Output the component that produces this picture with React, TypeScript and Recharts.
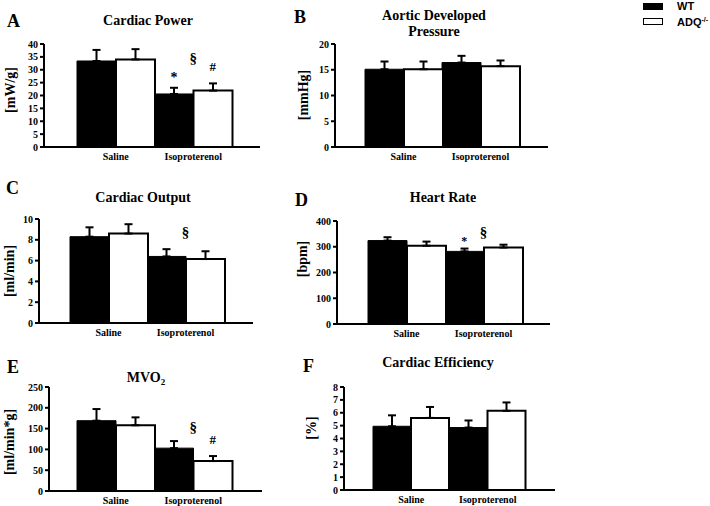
import React from 'react';
import { BarChart, Bar, XAxis, YAxis, ErrorBar, ReferenceDot } from 'recharts';

const SERIF = "'Liberation Serif', 'Times New Roman', Times, serif";
const SANS = "'Liberation Sans', Arial, Helvetica, sans-serif";

const categories = ['Saline', 'Isoproterenol'];
const seriesNames = ['WT', 'ADQ'];

// A: Cardiac Power [mW/g]
const powerWT = [33.4, 20.6];
const powerWTErr = [4.3, 2.4];
const powerADQ = [34.0, 21.9];
const powerADQErr = [4.0, 2.8];
const powerTicks = [0, 5, 10, 15, 20, 25, 30, 35, 40];

// B: Aortic Developed Pressure [mmHg]
const pressureWT = [15.1, 16.4];
const pressureWTErr = [1.5, 1.3];
const pressureADQ = [15.1, 15.7];
const pressureADQErr = [1.5, 1.1];
const pressureTicks = [0, 5, 10, 15, 20];

// C: Cardiac Output [ml/min]
const outputWT = [8.3, 6.4];
const outputWTErr = [0.9, 0.7];
const outputADQ = [8.6, 6.15];
const outputADQErr = [0.9, 0.75];
const outputTicks = [0, 2, 4, 6, 8, 10];

// D: Heart Rate [bpm]
const hrWT = [324, 282];
const hrWTErr = [13, 11];
const hrADQ = [304, 297];
const hrADQErr = [16, 11];
const hrTicks = [0, 100, 200, 300, 400];

// E: MVO2 [ml/min*g]
const mvoWT = [169, 103];
const mvoWTErr = [28, 17];
const mvoADQ = [158, 72];
const mvoADQErr = [19, 12];
const mvoTicks = [0, 50, 100, 150, 200, 250];

// F: Cardiac Efficiency [%]
const effWT = [4.95, 4.85];
const effWTErr = [0.85, 0.55];
const effADQ = [5.6, 6.15];
const effADQErr = [0.85, 0.65];
const effTicks = [0, 1, 2, 3, 4, 5, 6, 7, 8];

type Mark = { cat: string; side: 'wt' | 'adq' | 'mid'; text: string; value: number; size: number };

const powerMarks: Mark[] = [
  { cat: 'Isoproterenol', side: 'wt', text: '*', value: 28.7, size: 14 },
  { cat: 'Isoproterenol', side: 'mid', text: '§', value: 34.6, size: 15 },
  { cat: 'Isoproterenol', side: 'adq', text: '#', value: 31.1, size: 13 },
];
const outputMarks: Mark[] = [
  { cat: 'Isoproterenol', side: 'mid', text: '§', value: 8.75, size: 15 },
];
const hrMarks: Mark[] = [
  { cat: 'Isoproterenol', side: 'wt', text: '*', value: 338, size: 12 },
  { cat: 'Isoproterenol', side: 'mid', text: '§', value: 357, size: 15 },
];
const mvoMarks: Mark[] = [
  { cat: 'Isoproterenol', side: 'mid', text: '§', value: 154, size: 15 },
  { cat: 'Isoproterenol', side: 'adq', text: '#', value: 125, size: 13 },
];

type Panel = {
  letter: string;
  title: string[];
  unit: string;
  wt: number[];
  wtErr: number[];
  adq: number[];
  adqErr: number[];
  ticks: number[];
  marks: Mark[];
  geo: { axisX: number; axisEnd: number; top: number; bottom: number; padL: number; padR: number };
  letterPos: [number, number];
  titlePos: [number, number];
  unitPos: [number, number];
};

const panels: Panel[] = [
  {
    letter: 'A', title: ['Cardiac Power'], unit: '[mW/g]',
    wt: powerWT, wtErr: powerWTErr, adq: powerADQ, adqErr: powerADQErr, ticks: powerTicks, marks: powerMarks,
    geo: { axisX: 44, axisEnd: 260, top: 44, bottom: 147, padL: 33, padR: 28 },
    letterPos: [7, 27], titlePos: [148, 25], unitPos: [10, 90],
  },
  {
    letter: 'B', title: ['Aortic Developed', 'Pressure'], unit: '[mmHg]',
    wt: pressureWT, wtErr: pressureWTErr, adq: pressureADQ, adqErr: pressureADQErr, ticks: pressureTicks, marks: [],
    geo: { axisX: 335, axisEnd: 548, top: 44, bottom: 147, padL: 30, padR: 29 },
    letterPos: [294, 23], titlePos: [434, 20], unitPos: [303, 95],
  },
  {
    letter: 'C', title: ['Cardiac Output'], unit: '[ml/min]',
    wt: outputWT, wtErr: outputWTErr, adq: outputADQ, adqErr: outputADQErr, ticks: outputTicks, marks: outputMarks,
    geo: { axisX: 39, axisEnd: 253, top: 219, bottom: 323, padL: 31, padR: 29 },
    letterPos: [6, 194], titlePos: [143, 202], unitPos: [9, 271],
  },
  {
    letter: 'D', title: ['Heart Rate'], unit: '[bpm]',
    wt: hrWT, wtErr: hrWTErr, adq: hrADQ, adqErr: hrADQErr, ticks: hrTicks, marks: hrMarks,
    geo: { axisX: 337, axisEnd: 550, top: 221, bottom: 324, padL: 31, padR: 28 },
    letterPos: [295, 206], titlePos: [443, 202], unitPos: [302, 259],
  },
  {
    letter: 'E', title: ['MVO'], unit: '[ml/min*g]',
    wt: mvoWT, wtErr: mvoWTErr, adq: mvoADQ, adqErr: mvoADQErr, ticks: mvoTicks, marks: mvoMarks,
    geo: { axisX: 49, axisEnd: 262, top: 387, bottom: 491, padL: 28, padR: 30 },
    letterPos: [7, 373], titlePos: [146, 382], unitPos: [9, 442],
  },
  {
    letter: 'F', title: ['Cardiac Efficiency'], unit: '[%]',
    wt: effWT, wtErr: effWTErr, adq: effADQ, adqErr: effADQErr, ticks: effTicks, marks: [],
    geo: { axisX: 344, axisEnd: 555, top: 387, bottom: 490, padL: 29, padR: 29 },
    letterPos: [303, 372], titlePos: [438, 367], unitPos: [311, 428],
  },
];

const tickStyle = { fill: '#000', fontSize: 10, fontWeight: 'bold', fontFamily: SERIF };

function PanelChart({ p }: { p: Panel }) {
  const YW = 40;
  const MT = 12;
  const XH = 20;
  const g = p.geo;
  const width = YW + (g.axisEnd - g.axisX);
  const height = MT + (g.bottom - g.top) + XH;
  const barW = (g.axisEnd - g.axisX - g.padL - g.padR) / 4;
  const rows = categories.map((c, i) => ({
    cat: c,
    wt: p.wt[i],
    wtErr: [0, p.wtErr[i]],
    adq: p.adq[i],
    adqErr: [0, p.adqErr[i]],
  }));
  const yMax = p.ticks[p.ticks.length - 1];
  return (
    <div style={{ position: 'absolute', left: g.axisX - YW, top: g.top - MT }}>
      <BarChart
        width={width}
        height={height}
        data={rows}
        margin={{ top: MT, right: 0, bottom: 0, left: 0 }}
        barCategoryGap={0}
        barGap={0}
      >
        <XAxis
          dataKey="cat"
          padding={{ left: g.padL, right: g.padR }}
          height={XH}
          axisLine={{ stroke: '#000', strokeWidth: 2 }}
          tickLine={false}
          tickSize={4}
          tick={tickStyle}
          interval={0}
        />
        <YAxis
          width={YW}
          domain={[0, yMax]}
          ticks={p.ticks}
          interval={0}
          axisLine={{ stroke: '#000', strokeWidth: 2 }}
          tickLine={{ stroke: '#000', strokeWidth: 2 }}
          tickSize={4}
          tick={tickStyle}
        />
        <Bar dataKey="wt" name={seriesNames[0]} fill="#000" stroke="#000" strokeWidth={1} isAnimationActive={false}>
          <ErrorBar dataKey="wtErr" width={4} stroke="#000" strokeWidth={2} />
        </Bar>
        <Bar dataKey="adq" name={seriesNames[1]} fill="#fff" stroke="#000" strokeWidth={2} isAnimationActive={false}>
          <ErrorBar dataKey="adqErr" width={4} stroke="#000" strokeWidth={2} />
        </Bar>
        {p.marks.map((m, i) => {
          const dx = m.side === 'wt' ? -barW / 2 : m.side === 'adq' ? barW / 2 : 0;
          const dy = m.text === '*' ? 4 : 0;
          return (
            <ReferenceDot
              key={i}
              x={m.cat}
              y={m.value}
              r={0}
              fill="none"
              stroke="none"
              label={(lp: any) => {
                const vb = lp.viewBox || {};
                const cx = (vb.x || 0) + (vb.width || 0) / 2 + dx;
                const cy = (vb.y || 0) + (vb.height || 0) / 2 + dy;
                return (
                  <text
                    x={cx}
                    y={cy}
                    textAnchor="middle"
                    dominantBaseline="central"
                    fontFamily={SERIF}
                    fontWeight="bold"
                    fontSize={m.size}
                    fill="#000"
                  >
                    {m.text}
                  </text>
                );
              }}
            />
          );
        })}
      </BarChart>
    </div>
  );
}

function Overlay() {
  return (
    <svg width={710} height={506} style={{ position: 'absolute', left: 0, top: 0, pointerEvents: 'none' }}>
      {panels.map((p, i) => (
        <g key={i} fontFamily={SERIF} fontWeight="bold" fill="#000">
          <text x={p.letterPos[0]} y={p.letterPos[1]} fontSize={18}>{p.letter}</text>
          {p.title.map((t, j) => (
            <text key={j} x={p.titlePos[0]} y={p.titlePos[1] + j * 16} fontSize={14} textAnchor="middle">
              {t}
              {p.letter === 'E' ? <tspan dy={3} fontSize={9}>2</tspan> : null}
            </text>
          ))}
          <text
            transform={`translate(${p.unitPos[0]},${p.unitPos[1]}) rotate(-90)`}
            textAnchor="middle"
            dominantBaseline="central"
            fontSize={14}
          >
            {p.unit}
          </text>
        </g>
      ))}
      <g fontFamily={SANS} fontWeight="bold" fill="#000">
        <rect x={643} y={3} width={20} height={7} fill="#000" />
        <text x={677} y={10} fontSize={11}>{seriesNames[0]}</text>
        <rect x={643.5} y={18.5} width={19} height={6} fill="#fff" stroke="#000" strokeWidth={1} />
        <text x={677} y={26} fontSize={11}>
          {seriesNames[1]}
          <tspan dy={-4} fontSize={7}>-/-</tspan>
        </text>
      </g>
    </svg>
  );
}

export default function App() {
  return (
    <div style={{ position: 'absolute', left: 0, top: 0, width: 710, height: 506, background: '#fff', overflow: 'hidden' }}>
      {panels.map((p, i) => (
        <PanelChart key={i} p={p} />
      ))}
      <Overlay />
    </div>
  );
}
